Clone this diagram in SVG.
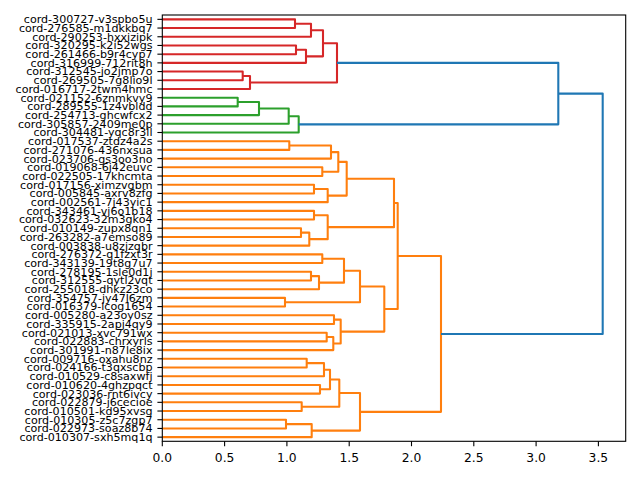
<svg xmlns="http://www.w3.org/2000/svg" width="640" height="480" viewBox="0 0 640 480">
<style>
.l{fill:none;stroke-width:2.08;stroke-linejoin:round;stroke-linecap:butt}
.r{stroke:#d62728}.g{stroke:#2ca02c}.o{stroke:#ff7f0e}.b{stroke:#1f77b4}
.lab{font-family:"DejaVu Sans",sans-serif;font-size:11.1px;fill:#000;text-anchor:end}
.tk{stroke:#000;stroke-width:1.1}
.xl{font-family:"DejaVu Sans",sans-serif;font-size:12.3px;fill:#000;text-anchor:middle}
</style>
<rect width="640" height="480" fill="#fff"/>
<g id="links">
<polyline class="l r" points="162.3,19.35 295,19.35 295,28.05 162.3,28.05"/>
<polyline class="l r" points="295,23.7 311,23.7 311,36.76 162.3,36.76"/>
<polyline class="l r" points="162.3,45.46 296,45.46 296,54.17 162.3,54.17"/>
<polyline class="l r" points="296,49.8 306,49.8 306,62.87 162.3,62.87"/>
<polyline class="l r" points="311,30.23 323,30.23 323,56.34 306,56.34"/>
<polyline class="l r" points="162.3,71.57 242.7,71.57 242.7,80.28 162.3,80.28"/>
<polyline class="l r" points="242.7,75.93 250,75.93 250,88.98 162.3,88.98"/>
<polyline class="l r" points="323,43.28 337,43.28 337,82.45 250,82.45"/>
<polyline class="l g" points="162.3,97.69 237.7,97.69 237.7,106.39 162.3,106.39"/>
<polyline class="l g" points="237.7,102.04 259,102.04 259,115.09 162.3,115.09"/>
<polyline class="l g" points="259,108.57 288.7,108.57 288.7,123.8 162.3,123.8"/>
<polyline class="l g" points="288.7,116.18 298.7,116.18 298.7,132.5 162.3,132.5"/>
<polyline class="l o" points="162.3,141.21 289.3,141.21 289.3,149.91 162.3,149.91"/>
<polyline class="l o" points="289.3,145.56 331,145.56 331,158.61 162.3,158.61"/>
<polyline class="l o" points="162.3,167.32 322.3,167.32 322.3,176.02 162.3,176.02"/>
<polyline class="l o" points="331,152.09 338.3,152.09 338.3,171.67 322.3,171.67"/>
<polyline class="l o" points="162.3,184.73 314,184.73 314,193.43 162.3,193.43"/>
<polyline class="l o" points="314,189.08 327.7,189.08 327.7,202.13 162.3,202.13"/>
<polyline class="l o" points="338.3,161.88 346.7,161.88 346.7,195.61 327.7,195.61"/>
<polyline class="l o" points="162.3,210.84 314,210.84 314,219.54 162.3,219.54"/>
<polyline class="l o" points="162.3,228.25 301,228.25 301,236.95 162.3,236.95"/>
<polyline class="l o" points="301,232.6 309.3,232.6 309.3,245.65 162.3,245.65"/>
<polyline class="l o" points="314,215.19 327.7,215.19 327.7,239.13 309.3,239.13"/>
<polyline class="l o" points="346.7,178.75 394,178.75 394,227.16 327.7,227.16"/>
<polyline class="l o" points="162.3,254.36 322.3,254.36 322.3,263.06 162.3,263.06"/>
<polyline class="l o" points="162.3,271.77 311,271.77 311,280.47 162.3,280.47"/>
<polyline class="l o" points="311,276.12 319,276.12 319,289.17 162.3,289.17"/>
<polyline class="l o" points="322.3,258.71 344,258.71 344,282.65 319,282.65"/>
<polyline class="l o" points="162.3,297.88 285,297.88 285,306.58 162.3,306.58"/>
<polyline class="l o" points="344,270.68 360,270.68 360,302.23 285,302.23"/>
<polyline class="l o" points="162.3,315.29 334,315.29 334,323.99 162.3,323.99"/>
<polyline class="l o" points="162.3,332.69 326.7,332.69 326.7,341.4 162.3,341.4"/>
<polyline class="l o" points="326.7,337.05 333.3,337.05 333.3,350.1 162.3,350.1"/>
<polyline class="l o" points="334,319.64 340.7,319.64 340.7,343.58 333.3,343.58"/>
<polyline class="l o" points="360,286.46 384.3,286.46 384.3,331.61 340.7,331.61"/>
<polyline class="l o" points="394,202.96 397.7,202.96 397.7,309.04 384.3,309.04"/>
<polyline class="l o" points="162.3,358.81 306.7,358.81 306.7,367.51 162.3,367.51"/>
<polyline class="l o" points="306.7,363.16 324,363.16 324,376.21 162.3,376.21"/>
<polyline class="l o" points="162.3,384.92 320,384.92 320,393.62 162.3,393.62"/>
<polyline class="l o" points="324,369.69 330,369.69 330,389.27 320,389.27"/>
<polyline class="l o" points="162.3,402.33 301.7,402.33 301.7,411.03 162.3,411.03"/>
<polyline class="l o" points="330,379.48 339.3,379.48 339.3,406.68 301.7,406.68"/>
<polyline class="l o" points="162.3,419.73 286,419.73 286,428.44 162.3,428.44"/>
<polyline class="l o" points="286,424.09 311.7,424.09 311.7,437.14 162.3,437.14"/>
<polyline class="l o" points="339.3,393.08 360,393.08 360,430.62 311.7,430.62"/>
<polyline class="l o" points="397.7,256 441,256 441,411.85 360,411.85"/>
<polyline class="l b" points="337,62.87 558.3,62.87 558.3,124.34 298.7,124.34"/>
<polyline class="l b" points="558.3,93.6 602.7,93.6 602.7,333.93 441,333.93"/>
</g>
<g id="axes">
<rect x="162.3" y="15" width="463.4" height="426.3" fill="none" stroke="#000" stroke-width="1.1"/>
<g class="tk">
<line x1="162.3" y1="441.3" x2="162.3" y2="446.2"/><line x1="224.6" y1="441.3" x2="224.6" y2="446.2"/><line x1="286.9" y1="441.3" x2="286.9" y2="446.2"/><line x1="349.2" y1="441.3" x2="349.2" y2="446.2"/><line x1="411.5" y1="441.3" x2="411.5" y2="446.2"/><line x1="473.8" y1="441.3" x2="473.8" y2="446.2"/><line x1="536.1" y1="441.3" x2="536.1" y2="446.2"/><line x1="598.4" y1="441.3" x2="598.4" y2="446.2"/>
</g>
<text class="xl" x="162.3" y="461.7">0.0</text><text class="xl" x="224.6" y="461.7">0.5</text><text class="xl" x="286.9" y="461.7">1.0</text><text class="xl" x="349.2" y="461.7">1.5</text><text class="xl" x="411.5" y="461.7">2.0</text><text class="xl" x="473.8" y="461.7">2.5</text><text class="xl" x="536.1" y="461.7">3.0</text><text class="xl" x="598.4" y="461.7">3.5</text>
</g>
<g id="leaf-300727"><line class="tk" x1="157.4" y1="19.35" x2="162.3" y2="19.35"/><text class="lab" x="152.5" y="23.25">cord-300727-v3spbo5u</text></g>
<g id="leaf-276585"><line class="tk" x1="157.4" y1="28.05" x2="162.3" y2="28.05"/><text class="lab" x="152.5" y="31.95">cord-276585-m1dkkbq7</text></g>
<g id="leaf-290253"><line class="tk" x1="157.4" y1="36.76" x2="162.3" y2="36.76"/><text class="lab" x="152.5" y="40.66">cord-290253-hxxizipk</text></g>
<g id="leaf-320295"><line class="tk" x1="157.4" y1="45.46" x2="162.3" y2="45.46"/><text class="lab" x="152.5" y="49.36">cord-320295-k2i52wgs</text></g>
<g id="leaf-261466"><line class="tk" x1="157.4" y1="54.17" x2="162.3" y2="54.17"/><text class="lab" x="152.5" y="58.07">cord-261466-b9r4cyp7</text></g>
<g id="leaf-316999"><line class="tk" x1="157.4" y1="62.87" x2="162.3" y2="62.87"/><text class="lab" x="152.5" y="66.77">cord-316999-712rit8h</text></g>
<g id="leaf-312545"><line class="tk" x1="157.4" y1="71.57" x2="162.3" y2="71.57"/><text class="lab" x="152.5" y="75.47">cord-312545-jo2jmp7o</text></g>
<g id="leaf-269505"><line class="tk" x1="157.4" y1="80.28" x2="162.3" y2="80.28"/><text class="lab" x="152.5" y="84.18">cord-269505-7g8lio9l</text></g>
<g id="leaf-016717"><line class="tk" x1="157.4" y1="88.98" x2="162.3" y2="88.98"/><text class="lab" x="152.5" y="92.88">cord-016717-2twm4hmc</text></g>
<g id="leaf-021152"><line class="tk" x1="157.4" y1="97.69" x2="162.3" y2="97.69"/><text class="lab" x="152.5" y="101.59">cord-021152-6znmkvy9</text></g>
<g id="leaf-289555"><line class="tk" x1="157.4" y1="106.39" x2="162.3" y2="106.39"/><text class="lab" x="152.5" y="110.29">cord-289555-1z4vbldd</text></g>
<g id="leaf-254713"><line class="tk" x1="157.4" y1="115.09" x2="162.3" y2="115.09"/><text class="lab" x="152.5" y="118.99">cord-254713-ghcwfcx2</text></g>
<g id="leaf-305857"><line class="tk" x1="157.4" y1="123.8" x2="162.3" y2="123.8"/><text class="lab" x="152.5" y="127.7">cord-305857-2409me0p</text></g>
<g id="leaf-304481"><line class="tk" x1="157.4" y1="132.5" x2="162.3" y2="132.5"/><text class="lab" x="152.5" y="136.4">cord-304481-yqc8r3ll</text></g>
<g id="leaf-017537"><line class="tk" x1="157.4" y1="141.21" x2="162.3" y2="141.21"/><text class="lab" x="152.5" y="145.11">cord-017537-ztdz4a2s</text></g>
<g id="leaf-271076"><line class="tk" x1="157.4" y1="149.91" x2="162.3" y2="149.91"/><text class="lab" x="152.5" y="153.81">cord-271076-436nxsua</text></g>
<g id="leaf-023706"><line class="tk" x1="157.4" y1="158.61" x2="162.3" y2="158.61"/><text class="lab" x="152.5" y="162.51">cord-023706-gs3oo3no</text></g>
<g id="leaf-019068"><line class="tk" x1="157.4" y1="167.32" x2="162.3" y2="167.32"/><text class="lab" x="152.5" y="171.22">cord-019068-6j42euvc</text></g>
<g id="leaf-022505"><line class="tk" x1="157.4" y1="176.02" x2="162.3" y2="176.02"/><text class="lab" x="152.5" y="179.92">cord-022505-17khcmta</text></g>
<g id="leaf-017156"><line class="tk" x1="157.4" y1="184.73" x2="162.3" y2="184.73"/><text class="lab" x="152.5" y="188.63">cord-017156-ximzvgbm</text></g>
<g id="leaf-005845"><line class="tk" x1="157.4" y1="193.43" x2="162.3" y2="193.43"/><text class="lab" x="152.5" y="197.33">cord-005845-axrv8zfg</text></g>
<g id="leaf-002561"><line class="tk" x1="157.4" y1="202.13" x2="162.3" y2="202.13"/><text class="lab" x="152.5" y="206.03">cord-002561-7j43yic1</text></g>
<g id="leaf-343461"><line class="tk" x1="157.4" y1="210.84" x2="162.3" y2="210.84"/><text class="lab" x="152.5" y="214.74">cord-343461-vj6o1b18</text></g>
<g id="leaf-032623"><line class="tk" x1="157.4" y1="219.54" x2="162.3" y2="219.54"/><text class="lab" x="152.5" y="223.44">cord-032623-32m3gko4</text></g>
<g id="leaf-010149"><line class="tk" x1="157.4" y1="228.25" x2="162.3" y2="228.25"/><text class="lab" x="152.5" y="232.15">cord-010149-zupx8qn1</text></g>
<g id="leaf-263282"><line class="tk" x1="157.4" y1="236.95" x2="162.3" y2="236.95"/><text class="lab" x="152.5" y="240.85">cord-263282-a7emso89</text></g>
<g id="leaf-003838"><line class="tk" x1="157.4" y1="245.65" x2="162.3" y2="245.65"/><text class="lab" x="152.5" y="249.55">cord-003838-u8zjzqbr</text></g>
<g id="leaf-276372"><line class="tk" x1="157.4" y1="254.36" x2="162.3" y2="254.36"/><text class="lab" x="152.5" y="258.26">cord-276372-q1fzxt3r</text></g>
<g id="leaf-343139"><line class="tk" x1="157.4" y1="263.06" x2="162.3" y2="263.06"/><text class="lab" x="152.5" y="266.96">cord-343139-19t8g7u7</text></g>
<g id="leaf-278195"><line class="tk" x1="157.4" y1="271.77" x2="162.3" y2="271.77"/><text class="lab" x="152.5" y="275.67">cord-278195-1sle0d1j</text></g>
<g id="leaf-312555"><line class="tk" x1="157.4" y1="280.47" x2="162.3" y2="280.47"/><text class="lab" x="152.5" y="284.37">cord-312555-qytl2vqt</text></g>
<g id="leaf-255018"><line class="tk" x1="157.4" y1="289.17" x2="162.3" y2="289.17"/><text class="lab" x="152.5" y="293.07">cord-255018-dhkz23co</text></g>
<g id="leaf-354757"><line class="tk" x1="157.4" y1="297.88" x2="162.3" y2="297.88"/><text class="lab" x="152.5" y="301.78">cord-354757-jy47l6zm</text></g>
<g id="leaf-016379"><line class="tk" x1="157.4" y1="306.58" x2="162.3" y2="306.58"/><text class="lab" x="152.5" y="310.48">cord-016379-lcog1654</text></g>
<g id="leaf-005280"><line class="tk" x1="157.4" y1="315.29" x2="162.3" y2="315.29"/><text class="lab" x="152.5" y="319.19">cord-005280-a23oy0sz</text></g>
<g id="leaf-335915"><line class="tk" x1="157.4" y1="323.99" x2="162.3" y2="323.99"/><text class="lab" x="152.5" y="327.89">cord-335915-2apj4qy9</text></g>
<g id="leaf-021013"><line class="tk" x1="157.4" y1="332.69" x2="162.3" y2="332.69"/><text class="lab" x="152.5" y="336.59">cord-021013-xvc791wx</text></g>
<g id="leaf-022883"><line class="tk" x1="157.4" y1="341.4" x2="162.3" y2="341.4"/><text class="lab" x="152.5" y="345.3">cord-022883-chrxyrls</text></g>
<g id="leaf-301991"><line class="tk" x1="157.4" y1="350.1" x2="162.3" y2="350.1"/><text class="lab" x="152.5" y="354">cord-301991-n87le8ix</text></g>
<g id="leaf-009716"><line class="tk" x1="157.4" y1="358.81" x2="162.3" y2="358.81"/><text class="lab" x="152.5" y="362.71">cord-009716-oxahu8nz</text></g>
<g id="leaf-024166"><line class="tk" x1="157.4" y1="367.51" x2="162.3" y2="367.51"/><text class="lab" x="152.5" y="371.41">cord-024166-t3qxscbp</text></g>
<g id="leaf-010529"><line class="tk" x1="157.4" y1="376.21" x2="162.3" y2="376.21"/><text class="lab" x="152.5" y="380.11">cord-010529-c8saxwfj</text></g>
<g id="leaf-010620"><line class="tk" x1="157.4" y1="384.92" x2="162.3" y2="384.92"/><text class="lab" x="152.5" y="388.82">cord-010620-4ghzpqct</text></g>
<g id="leaf-023036"><line class="tk" x1="157.4" y1="393.62" x2="162.3" y2="393.62"/><text class="lab" x="152.5" y="397.52">cord-023036-rnt6ivcy</text></g>
<g id="leaf-022879"><line class="tk" x1="157.4" y1="402.33" x2="162.3" y2="402.33"/><text class="lab" x="152.5" y="406.23">cord-022879-j6cecioe</text></g>
<g id="leaf-010501"><line class="tk" x1="157.4" y1="411.03" x2="162.3" y2="411.03"/><text class="lab" x="152.5" y="414.93">cord-010501-kd95xvsg</text></g>
<g id="leaf-010305"><line class="tk" x1="157.4" y1="419.73" x2="162.3" y2="419.73"/><text class="lab" x="152.5" y="423.63">cord-010305-z5c7zgp7</text></g>
<g id="leaf-022973"><line class="tk" x1="157.4" y1="428.44" x2="162.3" y2="428.44"/><text class="lab" x="152.5" y="432.34">cord-022973-soaz8b74</text></g>
<g id="leaf-010307"><line class="tk" x1="157.4" y1="437.14" x2="162.3" y2="437.14"/><text class="lab" x="152.5" y="441.04">cord-010307-sxh5mq1q</text></g>
</svg>
